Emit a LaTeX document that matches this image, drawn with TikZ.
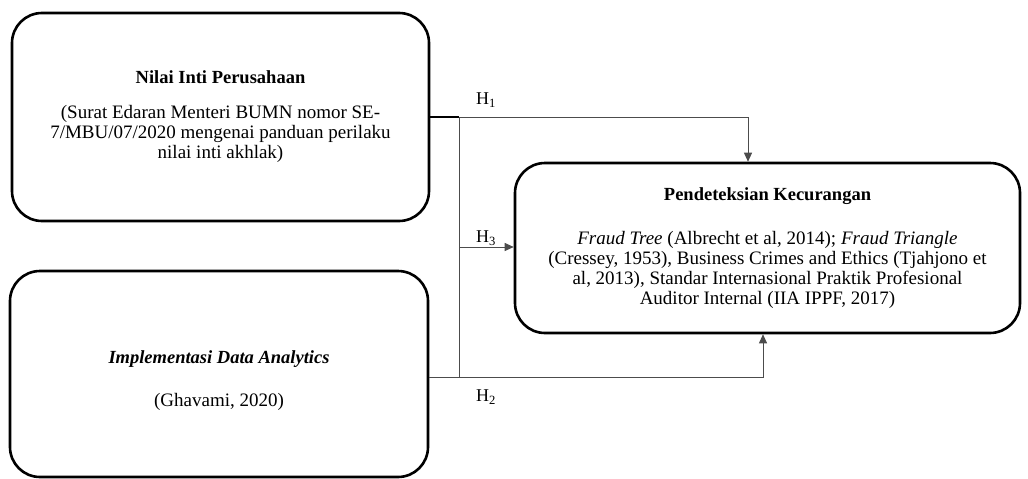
\documentclass[tikz,border=0pt]{standalone}
\usepackage{fontspec}
\setmainfont{Liberation Serif}
\usetikzlibrary{arrows.meta,calc}
\newcommand{\ttl}[1]{{\fontsize{18.5}{20}\selectfont\textbf{#1}}}
\begin{document}
\begin{tikzpicture}[x=1pt,y=-1pt,
  box/.style={draw=black,line width=2.6pt,rounded corners=30pt,align=center,
    inner sep=0pt,font=\fontsize{19}{20}\selectfont},
  conn/.style={line width=0.9pt,draw=black!70},
  arr/.style={conn,-{Triangle[length=9pt,width=8pt]}},
  hlab/.style={font=\fontsize{18}{20}\selectfont,inner sep=0pt}]
\useasboundingbox (0,0) rectangle (1028,479);
\node[box,minimum width=417pt,minimum height=208pt] (A) at (220.5,117)
  {\ttl{Nilai Inti Perusahaan}\\[15pt]
   (Surat Edaran Menteri BUMN nomor SE-\\
   7/MBU/07/2020 mengenai panduan perilaku\\
   nilai inti akhlak)};
\node[box,minimum width=418pt,minimum height=206pt] (B) at (219,374)
  {\rule{0pt}{26pt}\ttl{\textit{Implementasi Data Analytics}}\\[23pt]
   (Ghavami, 2020)};
\node[box,minimum width=505pt,minimum height=170pt] (C) at (767.5,248)
  {\ttl{Pendeteksian Kecurangan}\\[24pt]
   \textit{Fraud Tree} (Albrecht et al, 2014); \textit{Fraud Triangle}\\
   (Cressey, 1953), Business Crimes and Ethics (Tjahjono et\\
   al, 2013), Standar Internasional Praktik Profesional\\
   Auditor Internal (IIA IPPF, 2017)};
\coordinate (j1) at (459,117);
\coordinate (j2) at (459,377);
\coordinate (j3) at (459,247);
\coordinate (t1) at (748,117);
\coordinate (t2) at (763,377);
\draw[line width=1.2pt] (A.east) -- (j1);
\draw[conn] (j1) -- (j2);
\draw[arr] (j1) -- (t1) -- (t1 |- C.north);
\draw[conn] (B.east |- j2) -- (j2);
\draw[arr] (j2) -- (t2) -- (t2 |- C.south);
\draw[arr] (j3) -- (j3 -| C.west);
\node[hlab] (h1) at (486,100) {H\textsubscript{1}};
\node[hlab] (h3) at (486,238) {H\textsubscript{3}};
\node[hlab] (h2) at (486,397) {H\textsubscript{2}};
\end{tikzpicture}
\end{document}
